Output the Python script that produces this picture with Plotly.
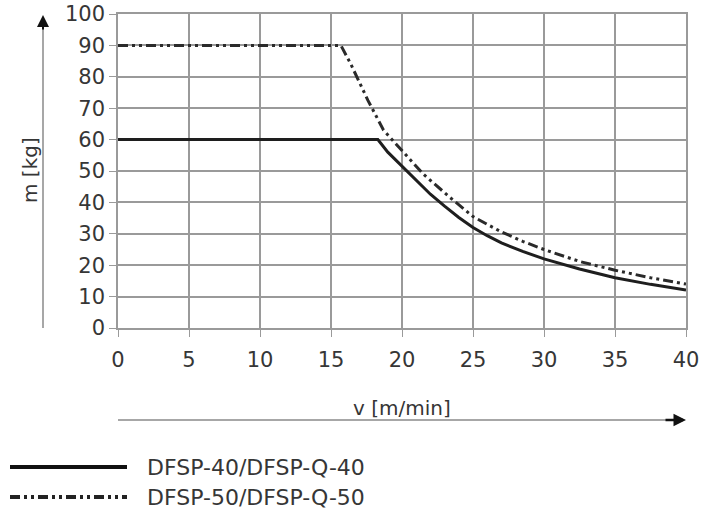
import plotly.graph_objects as go

# ---- data ----
series_names = ["DFSP-40/DFSP-Q-40", "DFSP-50/DFSP-Q-50"]

v_40 = [0, 18.3, 19, 20, 21, 22, 23, 24, 25, 26, 27, 28.5, 30, 32.5, 35, 37.5, 40]
m_40 = [60, 60, 56, 51.5, 46.8, 42.6, 38.8, 35.2, 32.0, 29.4, 27.1, 24.4, 22, 18.8, 16.0, 13.9, 12.1]

v_50 = [0, 15.7, 16.4, 17, 17.6, 18.7, 20, 21.5, 23.4, 25, 26, 27, 28.5, 30, 32.5, 35, 37.5, 40]
m_50 = [90, 90, 84, 78, 72.5, 63, 56.5, 49, 41.5, 35.5, 33.0, 30.6, 27.6, 25, 21.2, 18.4, 16.0, 14]

x_ticks = [0, 5, 10, 15, 20, 25, 30, 35, 40]
y_ticks = [0, 10, 20, 30, 40, 50, 60, 70, 80, 90, 100]
x_title = "v [m/min]"
y_title = "m [kg]"

# ---- geometry (pixels) ----
W, H = 704, 522
L, R, T, B = 118, 686, 14, 328
pw, ph = R - L, B - T


def px(x):
    return (x - L) / pw


def py(y):
    return (B - y) / ph


FONT = "DejaVu Sans"
TXT = "#363636"
GRID = "#9a9a9a"
DASH = "10px,4px,3px,4px,3px,4px"

fig = go.Figure()
fig.add_trace(go.Scatter(x=v_40, y=m_40, mode="lines", name=series_names[0],
                         line=dict(color="#1e1e1e", width=3), showlegend=False))
fig.add_trace(go.Scatter(x=v_50, y=m_50, mode="lines", name=series_names[1],
                         line=dict(color="#2a2a2a", width=3, dash=DASH), showlegend=False))

axis_common = dict(showgrid=True, gridcolor=GRID, gridwidth=1.5, showline=True,
                   linecolor=GRID, linewidth=1.5, mirror=True, ticks="outside",
                   tickcolor=GRID, tickwidth=1.2, zeroline=False,
                   automargin=False,
                   tickfont=dict(family=FONT, size=21, color=TXT), fixedrange=True)

fig.update_xaxes(range=[0, 40], tickvals=x_ticks, ticktext=[str(t) for t in x_ticks],
                 ticklen=7, ticklabelstandoff=5, **axis_common)
fig.update_yaxes(range=[0, 100], tickvals=y_ticks, ticktext=[str(t) for t in y_ticks],
                 ticklen=7, **axis_common)

shapes = []
annotations = []

# axis arrows
shapes.append(dict(type="line", xref="paper", yref="paper", x0=px(43), x1=px(43),
                   y0=py(328), y1=py(24), line=dict(color="#8a8a8a", width=1.5)))
annotations.append(dict(xref="paper", yref="paper", x=px(43), y=py(15), ax=0, ay=16,
                        showarrow=True, arrowhead=2, arrowsize=1.2, arrowwidth=2,
                        arrowcolor="#111", text=""))
shapes.append(dict(type="line", xref="paper", yref="paper", x0=px(118), x1=px(670),
                   y0=py(420), y1=py(420), line=dict(color="#8a8a8a", width=1.5)))
annotations.append(dict(xref="paper", yref="paper", x=px(686), y=py(420), ax=-22, ay=0,
                        showarrow=True, arrowhead=2, arrowsize=1.0, arrowwidth=2.5,
                        arrowcolor="#111", text=""))

# axis titles
annotations.append(dict(xref="paper", yref="paper", x=px(30), y=py(170), text=y_title,
                        textangle=-90, showarrow=False, xanchor="center", yanchor="middle",
                        font=dict(family=FONT, size=20, color=TXT)))
annotations.append(dict(xref="paper", yref="paper", x=px(402), y=py(408), text=x_title,
                        showarrow=False, xanchor="center", yanchor="middle",
                        font=dict(family=FONT, size=20, color=TXT)))

# legend drawn manually
leg_rows = [(467, None, "#111"), (497, DASH, "#222")]
for (yy, dash, col), name in zip(leg_rows, series_names):
    ln = dict(color=col, width=4)
    if dash:
        ln["dash"] = dash
    shapes.append(dict(type="line", xref="paper", yref="paper", x0=px(10), x1=px(127),
                       y0=py(yy), y1=py(yy), line=ln))
    annotations.append(dict(xref="paper", yref="paper", x=px(145), y=py(yy), text=name,
                            showarrow=False, xanchor="left", yanchor="middle",
                            font=dict(family=FONT, size=22, color=TXT)))

fig.update_layout(width=W, height=H, margin=dict(l=L, r=W - R, t=T, b=H - B, autoexpand=False),
                  paper_bgcolor="white", plot_bgcolor="white",
                  shapes=shapes, annotations=annotations, showlegend=False)

fig.write_html("out.html", config={"displayModeBar": False},
               post_script="document.body.style.margin='0';document.body.style.overflow='hidden';")
